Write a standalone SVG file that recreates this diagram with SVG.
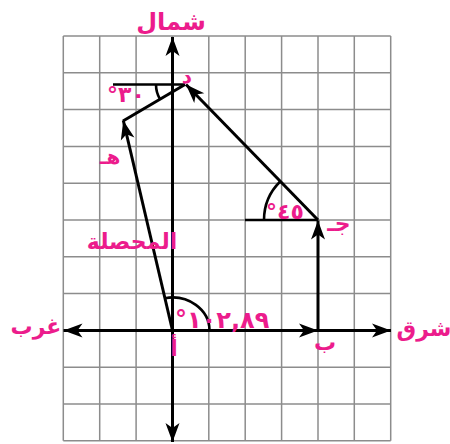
<svg xmlns="http://www.w3.org/2000/svg" width="450" height="444" viewBox="0 0 450 444">
<style>
.grid line{stroke:#8c8c8c;stroke-width:1.5}
.ax{stroke:#000;stroke-width:3;fill:none}
.vec{stroke:#000;stroke-width:3;fill:none}
.thin{stroke:#000;stroke-width:2.6;fill:none}
.lbl{fill:#EC1C8C;font-family:"DejaVu Sans",sans-serif;font-weight:bold}
.num{fill:#EC1C8C;font-family:"DejaVu Sans",sans-serif;font-weight:bold;direction:ltr;unicode-bidi:bidi-override}
</style>
<defs>
<marker id="ah" markerUnits="userSpaceOnUse" markerWidth="22" markerHeight="18" viewBox="-20 -9 22 18" refX="0" refY="0" orient="auto">
<path d="M0,0 L-19,-7 L-14,0 L-19,7 Z" fill="#000"/>
</marker>
</defs>
<rect width="450" height="444" fill="#fff"/>
<g class="grid" id="grid">
<line x1="63.3" y1="36" x2="63.3" y2="440.8"/>
<line x1="99.7" y1="36" x2="99.7" y2="440.8"/>
<line x1="136.1" y1="36" x2="136.1" y2="440.8"/>
<line x1="172.4" y1="36" x2="172.4" y2="440.8"/>
<line x1="208.8" y1="36" x2="208.8" y2="440.8"/>
<line x1="245.2" y1="36" x2="245.2" y2="440.8"/>
<line x1="281.6" y1="36" x2="281.6" y2="440.8"/>
<line x1="318" y1="36" x2="318" y2="440.8"/>
<line x1="354.3" y1="36" x2="354.3" y2="440.8"/>
<line x1="390.7" y1="36" x2="390.7" y2="440.8"/>
<line x1="63.3" y1="36" x2="390.7" y2="36"/>
<line x1="63.3" y1="72.8" x2="390.7" y2="72.8"/>
<line x1="63.3" y1="109.6" x2="390.7" y2="109.6"/>
<line x1="63.3" y1="146.4" x2="390.7" y2="146.4"/>
<line x1="63.3" y1="183.2" x2="390.7" y2="183.2"/>
<line x1="63.3" y1="220" x2="390.7" y2="220"/>
<line x1="63.3" y1="256.8" x2="390.7" y2="256.8"/>
<line x1="63.3" y1="293.6" x2="390.7" y2="293.6"/>
<line x1="63.3" y1="330.4" x2="390.7" y2="330.4"/>
<line x1="63.3" y1="367.2" x2="390.7" y2="367.2"/>
<line x1="63.3" y1="404" x2="390.7" y2="404"/>
<line x1="63.3" y1="440.8" x2="390.7" y2="440.8"/>
</g>
<g id="axes">
<line class="ax" x1="172.5" y1="330.5" x2="172.5" y2="37" marker-end="url(#ah)"/>
<line class="ax" x1="172.5" y1="330.5" x2="172.5" y2="442" marker-end="url(#ah)"/>
<line class="ax" x1="172.5" y1="330.5" x2="391" y2="330.5" marker-end="url(#ah)"/>
<line class="ax" x1="172.5" y1="330.5" x2="63.5" y2="330.5" marker-end="url(#ah)"/>
</g>
<g id="connectors">
<line class="vec" x1="172.5" y1="330.5" x2="318" y2="330.5" marker-end="url(#ah)"/>
<line class="vec" x1="318" y1="330.5" x2="318" y2="220.5" marker-end="url(#ah)"/>
<line class="vec" x1="318" y1="220" x2="186" y2="84.5" marker-end="url(#ah)"/>
<line class="vec" x1="185" y1="84.5" x2="123" y2="121"/>
<line class="vec" x1="172.5" y1="330.5" x2="123.3" y2="120.5" marker-end="url(#ah)"/>
<line class="thin" x1="113" y1="84.5" x2="185" y2="84.5"/>
<line class="thin" x1="245" y1="220" x2="318" y2="220"/>
<path class="thin" d="M156,84.5 A29,29 0 0,0 160,99.2"/>
<path class="thin" d="M264,220 A54,54 0 0,1 280.2,181.5"/>
<path class="thin" d="M209.5,330.5 A37,33 0 0,0 164.9,298.2"/>
</g>
<g id="labels">
<text class="lbl" x="171" y="30" text-anchor="middle" font-size="24">شمال</text>
<text class="lbl" x="424" y="336" text-anchor="middle" font-size="22">شرق</text>
<text class="lbl" x="36" y="334" text-anchor="middle" font-size="22">غرب</text>
<text class="lbl" x="174" y="356" text-anchor="middle" font-size="22">أ</text>
<text class="lbl" x="325" y="350" text-anchor="middle" font-size="22">ب</text>
<text class="lbl" x="339" y="231" text-anchor="middle" font-size="22">جـ</text>
<text class="lbl" x="187" y="83" text-anchor="middle" font-size="20">د</text>
<text class="lbl" x="110" y="164" text-anchor="middle" font-size="20">هـ</text>
<text class="lbl" x="132" y="249" text-anchor="middle" font-size="22">المحصلة</text>
<text class="num" x="107" y="102" font-size="22">°٣٠</text>
<text class="num" x="266" y="219" font-size="22">°٤٥</text>
<text class="num" x="175" y="328" font-size="24">°١٠٢,٨٩</text>
</g>
</svg>
